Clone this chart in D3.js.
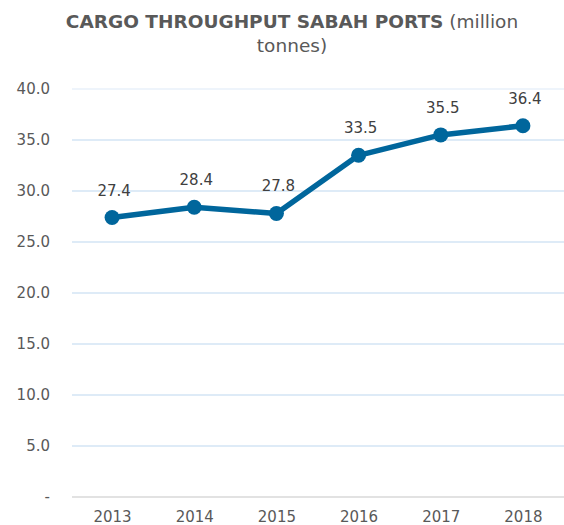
<!DOCTYPE html>
<html>
<head>
<meta charset="utf-8">
<script src="https://cdn.jsdelivr.net/npm/d3@7"></script>
<style>
    body { margin: 0; background: #fff; }
    text { font-family: "DejaVu Sans", Verdana, sans-serif; }
</style>
</head>
<body>
<div id="chart"></div>
<script>
const years = ["2013", "2014", "2015", "2016", "2017", "2018"]
const throughput = [27.4, 28.4, 27.8, 33.5, 35.5, 36.4]
const yTicks = [0, 5, 10, 15, 20, 25, 30, 35, 40]
const yTickLabels = ["-", "5.0", "10.0", "15.0", "20.0", "25.0", "30.0", "35.0", "40.0"]
const titleBold = "CARGO THROUGHPUT SABAH PORTS"
const titleRest = "(million"
const titleLine2 = "tonnes)"

const width = 564
const height = 525
const plot = { left: 71, right: 564, top: 89, bottom: 497 }

const svg = d3.select("#chart")
              .append("svg")
              .attr("width", width)
              .attr("height", height)

const x = d3.scalePoint()
            .domain(years)
            .range([plot.left, plot.right])
            .padding(0.5)

const y = d3.scaleLinear()
            .domain([0, 40])
            .range([plot.bottom, plot.top])

// title
const title = svg.append("text")
                 .attr("text-anchor", "middle")
                 .attr("fill", "#595959")
                 .attr("font-size", 18.5)
title.append("tspan")
     .attr("x", 292)
     .attr("y", 28)
     .attr("font-weight", "bold")
     .text(titleBold)
title.append("tspan")
     .text(" " + titleRest)
title.append("tspan")
     .attr("x", 292)
     .attr("y", 51.5)
     .text(titleLine2)

// gridlines
svg.append("g")
   .selectAll("line")
   .data(yTicks)
   .join("line")
   .attr("x1", plot.left + 1)
   .attr("x2", plot.right)
   .attr("y1", d => y(d))
   .attr("y2", d => y(d))
   .attr("stroke", d => d === 0 ? "#d9d9d9" : d === 40 ? "#e8f1fa" : "#d3e4f4")
   .attr("stroke-width", 1.5)

// y axis labels
const yAxis = d3.axisLeft(y)
                .tickValues(yTicks)
                .tickFormat((d, i) => yTickLabels[i])
                .tickSize(0)
                .tickPadding(0)

svg.append("g")
   .attr("transform", "translate(50,0)")
   .call(yAxis)
   .call(g => g.select(".domain").remove())
   .selectAll("text")
   .attr("font-family", "DejaVu Sans")
   .attr("font-size", 15)
   .attr("fill", "#595959")

// x axis labels
const xAxis = d3.axisBottom(x)
                .tickSize(0)
                .tickPadding(0)

svg.append("g")
   .attr("transform", "translate(0,511)")
   .call(xAxis)
   .call(g => g.select(".domain").remove())
   .selectAll("text")
   .attr("font-family", "DejaVu Sans")
   .attr("font-size", 15)
   .attr("fill", "#595959")

// line + markers
const line = d3.line()
               .x((d, i) => x(years[i]))
               .y(d => y(d))

svg.append("path")
   .datum(throughput)
   .attr("fill", "none")
   .attr("stroke", "#00669c")
   .attr("stroke-width", 5.5)
   .attr("stroke-linejoin", "round")
   .attr("d", line)

svg.append("g")
   .selectAll("circle")
   .data(throughput)
   .join("circle")
   .attr("cx", (d, i) => x(years[i]))
   .attr("cy", d => y(d))
   .attr("r", 7.5)
   .attr("fill", "#00669c")

// data labels
svg.append("g")
   .selectAll("text")
   .data(throughput)
   .join("text")
   .attr("x", (d, i) => x(years[i]) + 2)
   .attr("y", d => y(d) - 22)
   .attr("text-anchor", "middle")
   .attr("font-size", 15)
   .attr("fill", "#404040")
   .text(d => d.toFixed(1))
</script>
</body>
</html>
